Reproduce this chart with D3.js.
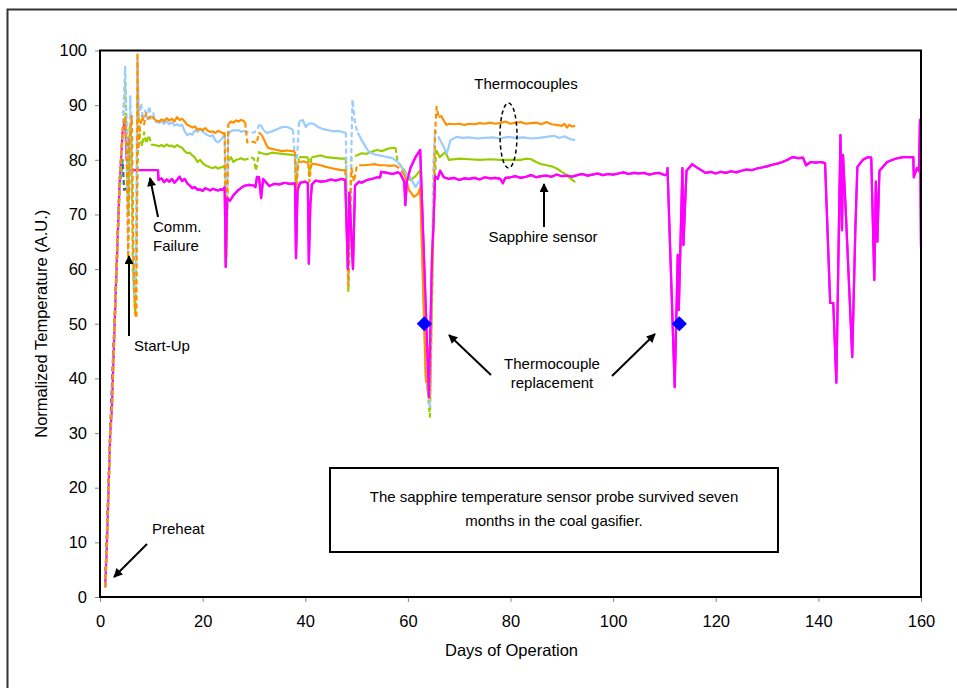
<!DOCTYPE html>
<html>
<head>
<meta charset="utf-8">
<script src="https://cdn.jsdelivr.net/npm/d3@7"></script>
<style>
body { margin: 0; background: #fff; }
text { font-family: Arial, "Liberation Sans", sans-serif; fill: #000; }
</style>
</head>
<body>
<div id="chart"></div>
<script>
// days of operation vs normalized temperature (A.U.)
var sapphire = [[1,2],[1.3,8],[2,30],[2.3,34],[3,54],[3.8,75],[4.4,85],[4.9,87.5],[5.2,80],[5.4,84],[5.6,78],[6.3,78.1],[11.3,78.1],[11.4,76.3],
	[12,76.6],[12.5,75.9],[13,76.4],[13.5,76],[14,76.5],[14.5,75.8],[15,76.3],[15.5,76.9],[16,76.1],[16.5,76.5],[17,75.7],[17.5,75.3],[18,74.8],[18.5,75],[19,74.5],[19.5,74.6],[20,74.3],[20.5,74.8],[21,74.6],[21.5,74.4],[22,74.7],[22.5,74.5],[23,74.4],[23.5,74.6],[24,74.5],[24.3,75],[24.5,60.4],[24.8,73],[25.3,72.5],[26,73.5],[27,74.5],[28,75.2],[29,75.4],[30,75.3],[30.3,75],[30.6,76.9],[31,76.8],[31.4,73],[31.8,76.5],[32.5,75.7],[33,75.2],[34,75.6],[35,75.5],[36,75.8],[37,75.6],[38,75.7],[38.2,62],[38.5,74.5],[39,75.8],[40,76],[40.5,75.7],[40.7,61],[41,72],[41.3,75.5],[42,76.2],[43,76],[44,76.1],[45,76.4],[46,76.2],[47,76.5],[47.8,76.3],[48.3,60],[48.6,74],[49.3,60],[49.7,75.3],[50.5,76],[51,75.8],[52,76.3],[53,76.5],[54,76.8],[54.6,76.8],[54.8,77.8],[56,77.6],[57,77.4],[58,77.7],[58.5,77.5],[59.3,76],[59.5,71.7],[59.8,76],[60.5,78.5],[61.5,80.5],[62.4,81.8],[64.1,36.6],[64.3,45],[64.7,62],[65,68.4],[65.3,77],[65.8,76.5],[66.3,78],[67,76.8],[68,76.5],[69,76.7],[70,76.3],[71,76.6],[72,76.5],[73,76.7],[74,76.4],[75,76.8],[76,76.6],[77,76.7],[78,76.5],[78.5,75.7],[79,76.7],[80,76.8],[81,77],[82,76.7],[83,76.9],[84,77.2],[85,76.8],[86,77],[87,77.1],[88,76.9],[89,77.3],[90,77],[91,77.1],[92,76.9],[93,77.2],[94,77.4],[95,77.1],[96,77.3],[97,77.5],[98,77.2],[99,77.4],[100,77.3],[101,77.5],[102,77.7],[103,77.4],[104,77.6],[105,77.5],[106,77.6],[107,77.3],[108,77.5],[109,77.6],[110,77.2],[110.5,77.3],[110.6,78.5],[112,38.4],[112.6,62.6],[112.8,52.5],[113.5,78.5],[113.7,64.4],[114.3,78],[115.4,79.2],[116,78.8],[117,78.2],[118,77.6],[119,77.8],[120,77.5],[121,77.8],[122,77.6],[123,77.9],[124,77.7],[125,78],[126,78.2],[127,78.1],[128,78.4],[129,78.6],[130,78.8],[131,79.1],[132,79.3],[133,79.6],[134,80],[135,80.5],[136,80.3],[137,80.4],[137.6,79],[138.5,79.6],[139.5,79.5],[140.5,79.6],[141.3,79.4],[142.3,53.8],[142.9,53.8],[143.5,39.2],[144.3,84.5],[144.6,67.1],[144.8,80.9],[145.3,71.4],[146.6,43.9],[147.2,67.1],[147.6,78.7],[148.7,80],[149.7,80.5],[150.3,80.4],[150.9,58],[151.2,76],[151.5,65],[151.9,78],[153.4,79.6],[155,80.2],[156.5,80.5],[158.5,80.5],[158.6,76.8],[159.2,78.5],[159.6,78],[159.8,87.3],[160,64]];

var tcOrange = [[1,1.8],[1.3,8],[2,30],[2.3,34],[3,54],[3.8,75],[4.4,85.5],[4.9,88],[5.2,80],[5.5,62],[5.8,84],[6.2,88],[6.5,64],[6.8,52],[7.1,51],[7.3,99.5],[7.5,82],[7.8,86],[8.2,88],[8.6,86.5],[9,88.5],[9.5,87.5],[10,88.2],[10.7,87.3],
	[11.5,87],[12,87.4],[12.5,87.1],[13,87.6],[13.5,87.2],[14,87.5],[14.5,87],[15,87.8],[15.5,87.3],[16,87.5],[16.5,87],[17,86.4],[17.5,86.2],[18,85.9],[18.5,86.1],[19,85.5],[19.5,85.7],[20,85.4],[20.5,85.8],[21,85.3],[21.5,85.1],[22,85.2],[22.5,84.9],[23,85.3],[23.5,85.1],[24,84.8],[24.3,85],[24.6,62],[25,86.5],[25.5,87],[26,86.8],[26.5,87.2],[27,87],[27.5,87.3],[28,87.1],[28.3,86.8],[28.7,83.2],[29,83.2],[30,83.3],[30.5,83],[31,84.9],[31.5,84.6],[32,83.6],[32.7,82.2],[33.5,82],[34.5,81.8],[35.5,81.6],[36.5,81.7],[37.5,81.6],[38,81.5],[38.2,74],[38.6,79.4],[39,79.6],[39.8,79.7],[40.6,79.4],[40.8,76],[41.2,79.3],[42,79.2],[43,79],[44,78.7],[45,78.5],[46,78.3],[47,78.1],[47.8,78.1],[48.4,57],[49,78.4],[49.5,76],[50,78.6],[50.5,79],[51.5,79],[52.5,79.1],[53.5,79.2],[54.5,79],[55.5,79],[56.5,78.9],[57.5,79],[58.2,78.5],[58.8,78],[59.5,76.9],[60.2,74.5],[61.2,73.2],[62,73.8],[62.4,75],[63.5,40],[64.3,36],[65,70],[65.3,85],[65.6,89.7],[66,87.8],[66.5,88],[67,87.2],[67.5,86.4],[68,86.6],[69,86.5],[70,86.6],[71,86.4],[72,86.6],[73,86.5],[74,86.7],[75,86.6],[76,86.8],[77,86.6],[78,86.7],[79,87],[80,86.6],[81,86.8],[82,86.9],[83,86.6],[84,86.7],[85,86.8],[86,86.5],[87,86.9],[88,86.5],[89,86.4],[90,86.2],[90.5,86.6],[91,85.9],[91.5,86.4],[92,86.1],[92.6,86.2]];

var tcBlue = [[1,1.8],[1.3,7.5],[2,29],[2.3,33],[3,53],[3.8,74],[4.4,84],[4.9,97],[5.2,86],[5.5,63],[5.9,91.8],[6.2,80],[6.6,55],[7,62],[7.3,98],[7.6,88],[8,90.3],[8.4,87.3],[8.8,89],[9.2,87.5],[9.6,89.8],[10,87.6],[10.4,88.5],[10.7,87],
	[11.5,86.8],[12,87],[12.5,86.6],[13,87.1],[13.5,86.5],[14,86.9],[14.5,86.3],[15,86.5],[15.5,86.2],[16,86.4],[16.5,85.2],[17,84.5],[17.5,84.8],[18,84.6],[18.5,85.4],[19,85.1],[19.5,85.6],[20,85.2],[20.5,84.8],[21,84.5],[21.5,84.3],[22,84.5],[22.5,83.5],[23,83.2],[23.5,83.6],[24,84.2],[24.3,84.5],[24.6,63],[25,84.8],[25.5,85.2],[26,85.4],[27,85.4],[27.5,85.1],[28,85.3],[29,85],[30,85],[30.5,85.3],[31.2,86.7],[31.8,85.5],[32.5,84.9],[33.5,85.2],[34.5,85.6],[35.5,86],[36.5,86],[37,85.8],[37.6,85.5],[38.2,77],[38.8,87],[39.5,87.3],[40.1,86],[40.5,86.5],[41,86.7],[41.8,86.5],[42.5,86],[43.5,85.6],[44.5,85.4],[45.5,85.2],[46.5,85.3],[47.5,85],[47.9,85],[48.4,57.5],[49.2,91],[49.7,86.7],[50.2,85],[51,83.6],[52,82],[52.5,81.4],[53.5,81],[55,80.7],[56,80.5],[57,80.3],[58,79.6],[58.5,79],[59.5,77.5],[60.4,76.9],[61.5,75],[62,75.8],[62.4,76.3],[63.5,40],[64.3,34.8],[65,80],[65.3,85.4],[66.3,83.6],[67.6,81.2],[68.3,83.6],[69.5,84.2],[70.5,84],[72,84.1],[73.5,83.9],[75,84],[76.5,84.1],[78,83.9],[79.5,84.2],[81,84],[82.5,84.1],[84,83.9],[85.5,84],[87,84.2],[88.5,84.4],[89.5,84],[90.5,84.3],[91.5,83.8],[92.6,83.6]];

var tcGreen = [[1,1.8],[1.3,8.5],[2,30.5],[2.3,34.5],[3,54.5],[3.8,75.5],[4.4,85],[4.9,94.2],[5.2,85],[5.5,70],[5.8,86.5],[6.1,84],[6.4,60],[6.9,51.5],[7.2,70],[7.5,88],[7.8,84],[8.2,82.5],[8.6,85],[9,83],[9.5,84.5],[10,82.8],[10.7,82.7],
	[11.5,82.5],[12,82.7],[12.5,82.4],[13,82.8],[13.5,82.5],[14,82.6],[14.5,82.3],[15,82.7],[15.5,82.4],[16,82.2],[16.5,81.6],[17,81.2],[17.5,81.3],[18,80.8],[18.5,80.4],[19,79.6],[19.5,80],[20,79.4],[20.5,79],[21,78.8],[21.5,78.6],[22,78.5],[22.5,78.7],[23,78.4],[23.5,78.6],[24,78.7],[24.3,79],[24.6,61],[25,79.8],[25.5,80.5],[26,79.6],[26.5,80],[27,80.1],[27.5,80.3],[28,80],[29,80.2],[29.5,80.4],[30,80.2],[30.4,78],[31,81.4],[31.5,81.2],[32.5,81],[33.5,81.3],[34.5,81.2],[35.5,81.1],[36.5,81],[37.5,80.9],[38,80.9],[38.2,75],[38.8,80.5],[40,80.5],[40.6,80.4],[40.8,77],[41.2,80.5],[42,80.6],[43,80.8],[44,80.5],[45,80.4],[46,80.3],[47,80.2],[47.9,80.2],[48.4,55.8],[49,80.5],[50,80.8],[51,81.2],[52,81.1],[53,81.5],[54,81.8],[55,81.6],[56,82],[57,82.2],[57.6,82.2],[58,79.6],[59,78.5],[59.5,77.8],[60.5,76.3],[61.5,77],[62.4,78.1],[63.5,42],[64.3,33],[65,70],[65.5,81.8],[66.2,80.5],[67.3,81.4],[68,80],[70,80.2],[72,80.1],[74,80],[76,80.1],[78,80],[80,80],[82,80],[83,80.2],[84,80.1],[85,79.6],[86,79.2],[87,79],[88,78.8],[89,78.4],[90,77.8],[91,77.2],[91.8,76.5],[92.6,75.9]];

var tcTeal = [[1,1.8],[2,29.5],[3,53.5],[3.8,74.5],[4.4,80],[4.7,74.5],[5.2,74.8],[5.6,74]];
var tcPurple = [[1,1.8],[2,31],[3,55],[3.8,76],[4.4,84.5]];

// day ranges where the thermocouple traces have gaps (drawn dashed)
var gapRanges = [[0,10.8],[24.2,25.2],[28.3,31.5],[37.8,39],[40.4,41.3],[48,50.3],[57.8,58.5],[63,65.8]];

var replacements = [[63.2,50],[112.9,50]];

var xTicks = [0,20,40,60,80,100,120,140,160];
var yTicks = [0,10,20,30,40,50,60,70,80,90,100];

var W = 957, H = 688;
var margin = {top: 50.5, right: 36, bottom: 91, left: 100};
var width = W - margin.left - margin.right;
var height = H - margin.top - margin.bottom;

var root = d3.select("#chart").append("svg")
	.attr("width", W)
	.attr("height", H);

root.append("defs").append("marker")
	.attr("id", "arrow")
	.attr("viewBox", "0 0 10 10")
	.attr("refX", 9).attr("refY", 5)
	.attr("markerWidth", 11).attr("markerHeight", 9)
	.attr("markerUnits", "userSpaceOnUse")
	.attr("orient", "auto")
	.append("path")
		.attr("d", "M0,0L10,5L0,10z")
		.attr("fill", "#000");

// outer frame (runs off the right and bottom of the picture)
root.append("rect")
	.attr("x", 7.5).attr("y", 9.5)
	.attr("width", 980).attr("height", 700)
	.attr("fill", "none")
	.attr("stroke", "#333")
	.attr("stroke-width", 2);

var svg = root.append("g")
	.attr("transform", "translate(" + margin.left + "," + margin.top + ")");

var x = d3.scaleLinear().domain([0, 160]).range([0, width]);
var y = d3.scaleLinear().domain([0, 100]).range([height, 0]);

svg.append("clipPath")
	.attr("id", "plot-area")
	.append("rect")
	.attr("x", -2).attr("y", -2).attr("width", width + 4).attr("height", height + 4);

// axes
var xAxis = svg.append("g")
	.attr("transform", "translate(0," + height + ")")
	.call(d3.axisBottom(x).tickValues(xTicks).tickSize(5).tickPadding(13));
var yAxis = svg.append("g")
	.call(d3.axisLeft(y).tickValues(yTicks).tickSize(5).tickPadding(8));
[xAxis, yAxis].forEach(function(a) {
	a.select(".domain").remove();
	a.selectAll(".tick line").attr("stroke", "#888");
	a.selectAll(".tick text")
		.style("font-size", "16.5px")
		.style("font-family", "Arial, 'Liberation Sans', sans-serif")
		.attr("fill", "#000");
});

svg.append("text")
	.attr("x", width / 2 + 1)
	.attr("y", height + 59)
	.attr("text-anchor", "middle")
	.style("font-size", "16.5px")
	.text("Days of Operation");

svg.append("text")
	.attr("transform", "translate(" + (-53) + "," + (height / 2) + ") rotate(-90)")
	.attr("text-anchor", "middle")
	.style("font-size", "16.5px")
	.text("Normalized Temperature (A.U.)");

var line = d3.line()
	.x(function(d) { return x(d[0]); })
	.y(function(d) { return y(d[1]); });

function inGap(day) {
	return gapRanges.some(function(r) { return day >= r[0] && day <= r[1]; });
}

// split a trace into solid and dashed pieces
function pieces(data) {
	var out = [], cur = null;
	for (var i = 1; i < data.length; i++) {
		var a = data[i - 1], b = data[i];
		var dashed = inGap((a[0] + b[0]) / 2);
		if (!cur || cur.dashed !== dashed) {
			cur = { dashed: dashed, pts: [a] };
			out.push(cur);
		}
		cur.pts.push(b);
	}
	return out;
}

var chartGroup = svg.append("g")
	.attr("clip-path", "url(#plot-area)");

var traces = [
	{ data: tcTeal, color: "#1f7f70" },
	{ data: tcPurple, color: "#9933ff" },
	{ data: tcGreen, color: "#99cc00" },
	{ data: tcBlue, color: "#99ccff" },
	{ data: tcOrange, color: "#ff9000" }
];

chartGroup.append("path")
	.datum(sapphire)
	.attr("d", line)
	.attr("fill", "none")
	.attr("stroke", "#ff00ff")
	.attr("stroke-width", 2.2)
	.attr("stroke-linejoin", "round");

traces.forEach(function(t) {
	chartGroup.append("g").selectAll("path")
		.data(pieces(t.data))
		.enter().append("path")
			.attr("d", function(p) { return line(p.pts); })
			.attr("fill", "none")
			.attr("stroke", t.color)
			.attr("stroke-width", 2.2)
			.attr("stroke-linejoin", "round")
			.attr("stroke-dasharray", function(p) { return p.dashed ? "5,3" : null; });
});

// sapphire on top again after the start-up period
chartGroup.append("path")
	.datum(sapphire.filter(function(d) { return d[0] >= 11; }))
	.attr("d", line)
	.attr("fill", "none")
	.attr("stroke", "#ff00ff")
	.attr("stroke-width", 2.2)
	.attr("stroke-linejoin", "round");

chartGroup.selectAll(".rep")
	.data(replacements)
	.enter().append("path")
		.attr("class", "rep")
		.attr("d", d3.symbol(d3.symbolSquare).size(115))
		.attr("transform", function(d) { return "translate(" + x(d[0]) + "," + y(d[1]) + ") rotate(45)"; })
		.attr("fill", "#0000ff");

// plot frame
svg.append("rect")
	.attr("width", width).attr("height", height)
	.attr("fill", "none")
	.attr("stroke", "#000")
	.attr("stroke-width", 2);

// annotations (page coordinates)
var notes = root.append("g");

function label(tx, ty, str, anchor) {
	notes.append("text")
		.attr("x", tx).attr("y", ty)
		.attr("text-anchor", anchor || "start")
		.style("font-size", "15px")
		.text(str);
}
function arrow(x1, y1, x2, y2) {
	notes.append("line")
		.attr("x1", x1).attr("y1", y1).attr("x2", x2).attr("y2", y2)
		.attr("stroke", "#000")
		.attr("stroke-width", 2)
		.attr("marker-end", "url(#arrow)");
}

label(152, 534, "Preheat");
arrow(147, 544, 114, 577);

label(134, 351, "Start-Up");
arrow(129, 336, 129, 256);

label(153, 232, "Comm.");
label(153, 251, "Failure");
arrow(158, 217, 150, 178);

label(526, 89, "Thermocouples", "middle");
notes.append("ellipse")
	.attr("cx", 508.5).attr("cy", 135.5)
	.attr("rx", 8.5).attr("ry", 32.5)
	.attr("fill", "none")
	.attr("stroke", "#000")
	.attr("stroke-width", 1.5)
	.attr("stroke-dasharray", "4,3");

label(543, 242, "Sapphire sensor", "middle");
arrow(544, 227, 544, 184);

label(552, 369, "Thermocouple", "middle");
label(552, 388, "replacement", "middle");
arrow(491, 375, 449, 335);
arrow(612, 376, 655, 334);

notes.append("rect")
	.attr("x", 330).attr("y", 468)
	.attr("width", 448).attr("height", 84)
	.attr("fill", "#fff")
	.attr("stroke", "#000")
	.attr("stroke-width", 2);
notes.append("text")
	.attr("x", 554).attr("y", 502)
	.attr("text-anchor", "middle")
	.style("font-size", "15px")
	.text("The sapphire temperature sensor probe survived seven");
notes.append("text")
	.attr("x", 554).attr("y", 526)
	.attr("text-anchor", "middle")
	.style("font-size", "15px")
	.text("months in the coal gasifier.");
</script>
</body>
</html>
